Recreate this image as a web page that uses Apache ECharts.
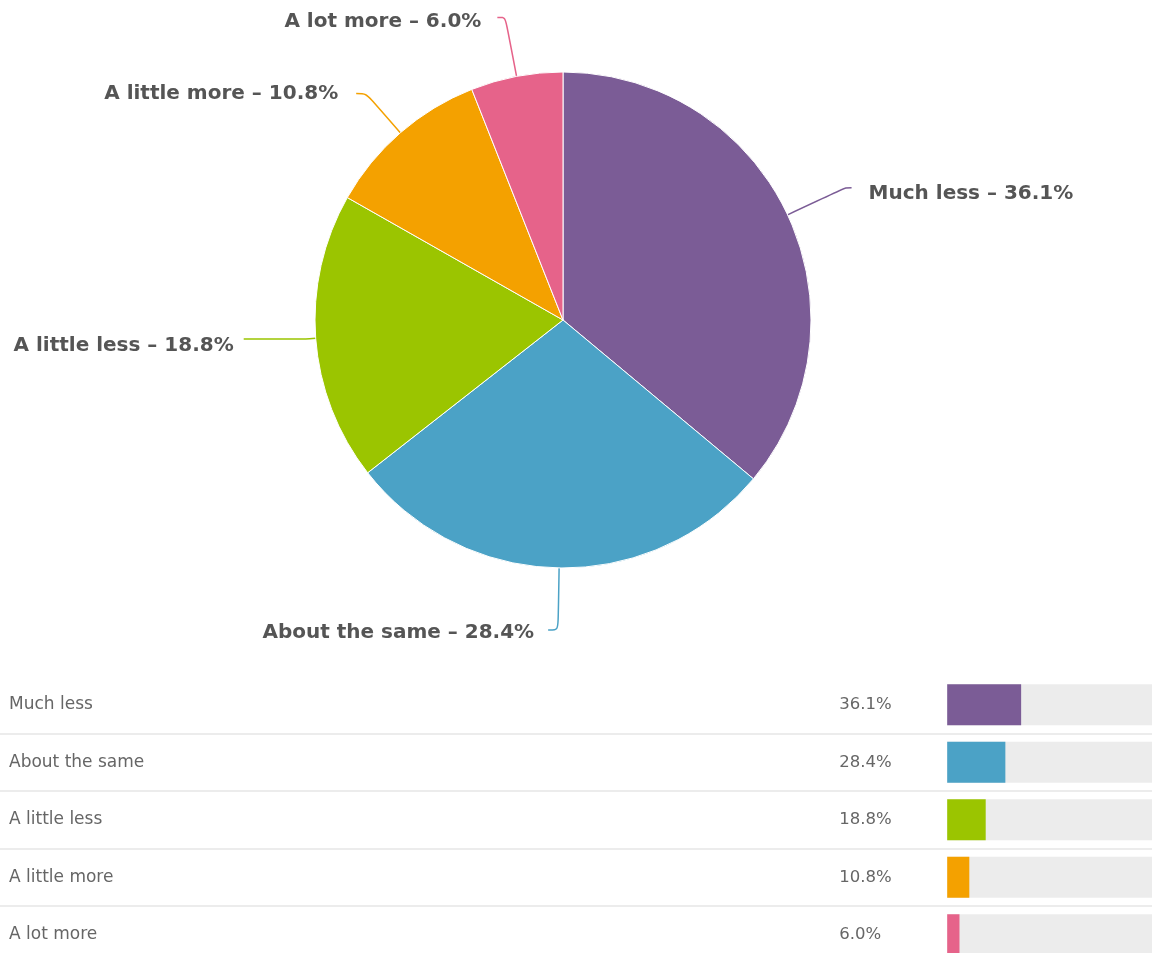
<!DOCTYPE html>
<html>
<head>
<meta charset="utf-8">
<script src="https://cdn.jsdelivr.net/npm/echarts@6/dist/echarts.min.js"></script>
<style>
html,body{margin:0;padding:0;background:#fff;}
#chart{width:1152px;height:953px;}
</style>
</head>
<body>
<div id="chart"></div>
<script>
var categories = ['Much less', 'About the same', 'A little less', 'A little more', 'A lot more'];
var values = [36.1, 28.4, 18.8, 10.8, 6.0];
var colors = ['#7b5c96', '#4ba2c6', '#9bc500', '#f4a100', '#e6638a'];
var fullScale = [100, 100, 100, 100, 100];

// per-slice leader line tuning (layout only)
var lineLen = [64, 62, 10, 52, 60];
var lineLen2 = [6, 10, 62, 10, 8];
var labelGap = [17, 14, 10, 18, 16];
var labelShiftY = [6, 3, 7, 0, 4];

var chart = echarts.init(document.getElementById('chart'));

var pieData = categories.map(function (c, i) {
  return {
    name: c,
    value: values[i],
    itemStyle: { color: colors[i] },
    labelLine: { length: lineLen[i], length2: lineLen2[i], lineStyle: { color: colors[i] } },
    label: { distanceToLabelLine: labelGap[i], offset: [0, labelShiftY[i]] }
  };
});

var option = {
  animation: false,
  backgroundColor: '#ffffff',
  grid: { left: 0, right: 0, top: 676, height: 287.5, containLabel: false, outerBoundsMode: 'none' },
  xAxis: {
    type: 'value', min: -462.5, max: 100, show: false
  },
  yAxis: {
    type: 'category',
    inverse: true,
    data: categories,
    axisLine: { show: false },
    axisTick: { show: false },
    axisLabel: {
      align: 'left', margin: -9, color: '#666',
      fontFamily: 'DejaVu Sans, Verdana, sans-serif', fontSize: 17
    },
    splitLine: {
      show: true,
      interval: function (i) { return i > 0; },
      lineStyle: { color: '#ececec', width: 2 }
    }
  },
  series: [
    {
      type: 'pie',
      center: [563, 320],
      radius: 248,
      startAngle: 90,
      clockwise: true,
      avoidLabelOverlap: false,
      itemStyle: { borderColor: '#ffffff', borderWidth: 1 },
      label: {
        show: true,
        position: 'outside',
        color: '#555',
        fontWeight: 'bold',
        fontFamily: 'DejaVu Sans, Verdana, sans-serif',
        fontSize: 20,
        formatter: function (p) { return p.name + ' \u2013 ' + p.value.toFixed(1) + '%'; }
      },
      labelLine: { show: true, smooth: 0.3, lineStyle: { width: 1.5 } },
      data: pieData
    },
    {
      type: 'bar',
      barWidth: 41,
      silent: true,
      itemStyle: { color: '#ececec' },
      data: fullScale
    },
    {
      type: 'bar',
      barWidth: 41,
      barGap: '-100%',
      data: values.map(function (v, i) { return { value: v, itemStyle: { color: colors[i] } }; }),
      label: {
        show: true,
        position: [-108, 20.5],
        align: 'left',
        verticalAlign: 'middle',
        color: '#666',
        fontFamily: 'DejaVu Sans, Verdana, sans-serif',
        fontSize: 16.5,
        formatter: function (p) { return p.value.toFixed(1) + '%'; }
      }
    }
  ]
};
chart.setOption(option);
</script>
</body>
</html>
